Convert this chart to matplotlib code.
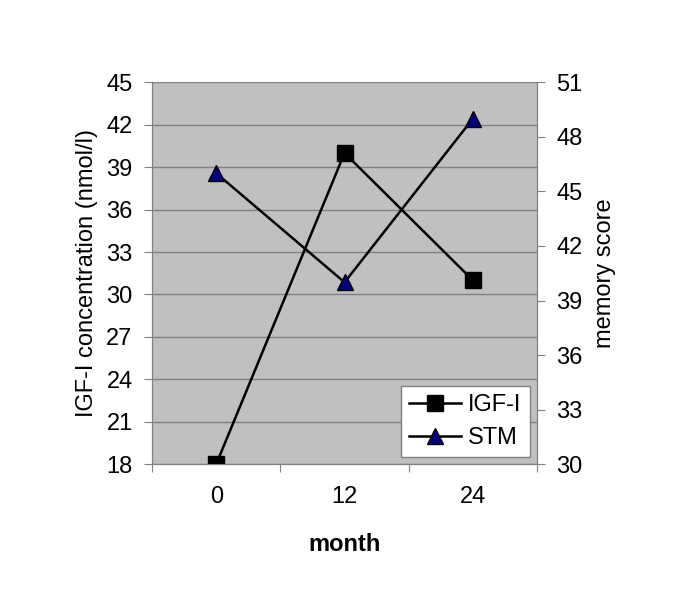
#!/usr/bin/env python3

import matplotlib
matplotlib.use("Agg")
import matplotlib.pyplot as plt

# data
months = ["0", "12", "24"]
igf = [18, 40, 31]
stm = [46, 40, 49]

left_ticks = list(range(18, 46, 3))
right_ticks = list(range(30, 52, 3))


def main():
    plt.rcParams["font.family"] = ["Liberation Sans", "DejaVu Sans"]
    fig = plt.figure(figsize=(6.85, 6.14), dpi=100)
    ax = fig.add_axes([0.222, 0.244, 0.562, 0.622])
    ax2 = ax.twinx()

    x = list(range(len(months)))
    ax.set_facecolor("#c0c0c0")
    ax.set_xlim(-0.5, len(months) - 0.5)
    ax.set_ylim(18, 45)
    ax.set_yticks(left_ticks)
    ax.yaxis.grid(True, color="#808080", linewidth=1)
    ax.set_axisbelow(True)

    # x ticks between categories, labels centred
    ax.set_xticks([i - 0.5 for i in range(len(months) + 1)])
    ax.set_xticklabels([])
    ax.set_xticks(x, minor=True)
    ax.set_xticklabels(months, minor=True, fontsize=17)
    ax.tick_params(axis="x", which="minor", length=0, pad=16)
    ax.tick_params(axis="x", which="major", length=6, color="#808080", direction="out")
    ax.tick_params(axis="y", length=6, color="#808080", labelsize=17, pad=8)

    ax2.set_ylim(30, 51)
    ax2.set_yticks(right_ticks)
    ax2.tick_params(axis="y", length=6, color="#808080", labelsize=17, pad=8)

    for a in (ax, ax2):
        for s in a.spines.values():
            s.set_color("#808080")
        a.spines["top"].set_visible(False)

    l1, = ax.plot(x, igf, color="black", marker="s", markersize=11, linewidth=1.8,
                  label="IGF-I", zorder=3)
    l2, = ax2.plot(x, stm, color="black", marker="^", markersize=11, linewidth=1.8,
                   markerfacecolor="#000080", markeredgecolor="black", label="STM", zorder=3)

    ax.set_ylabel("IGF-I concentration (nmol/l)", fontsize=17, labelpad=6)
    ax2.set_ylabel("memory score", fontsize=17, labelpad=8)
    ax.set_xlabel("month", fontsize=17, fontweight="bold", labelpad=18)

    leg = ax2.legend([l1, l2], ["IGF-I", "STM"], loc="lower right", fontsize=17,
                     fancybox=False, framealpha=1, edgecolor="#808080",
                     borderaxespad=0.3, handlelength=2.2, handletextpad=0.3,
                     labelspacing=0.45, borderpad=0.35)
    leg.get_frame().set_linewidth(1)

    fig.savefig("out.png", dpi=100)


if __name__ == "__main__":
    main()
